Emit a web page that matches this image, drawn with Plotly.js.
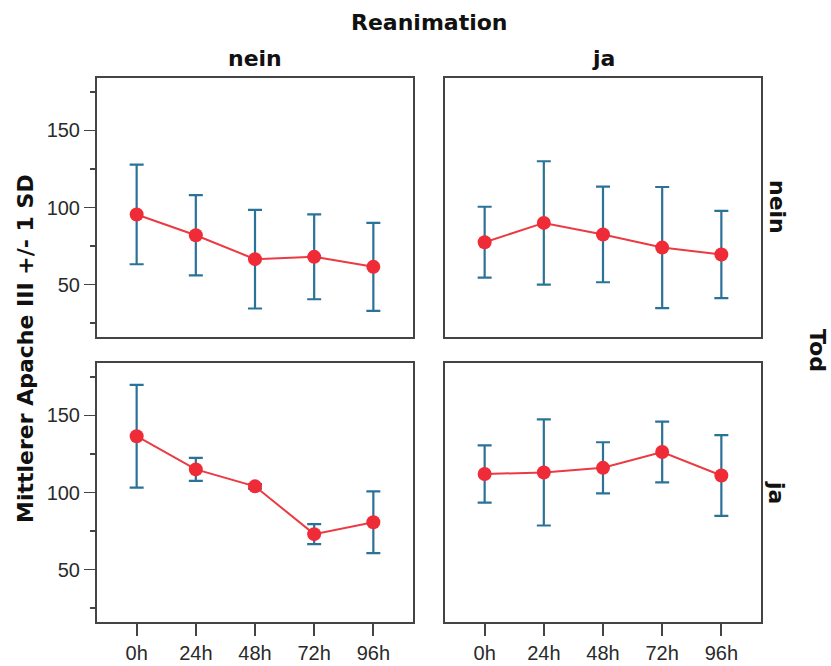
<!DOCTYPE html>
<html>
<head>
<meta charset="utf-8">
<script src="https://cdn.plot.ly/plotly-3.0.1.min.js"></script>
<style>html,body{margin:0;padding:0;background:#fff;}#chart{width:831px;height:666px;}</style>
</head>
<body>
<div id="chart"></div>
<script>
// Data
const times = ['0h', '24h', '48h', '72h', '96h'];
// Reanimation = nein, Tod = nein
const meanReaNeinTodNein = [95.5, 82, 66.5, 68, 61.5];
const sdReaNeinTodNein   = [32.3, 26, 32, 27.5, 28.5];
// Reanimation = ja, Tod = nein
const meanReaJaTodNein = [77.5, 90, 82.5, 74, 69.5];
const sdReaJaTodNein   = [23, 40, 31, 39.3, 28.3];
// Reanimation = nein, Tod = ja
const meanReaNeinTodJa = [136.5, 115, 104, 73, 80.7];
const sdReaNeinTodJa   = [33.3, 7.5, 1.5, 6.5, 20];
// Reanimation = ja, Tod = ja
const meanReaJaTodJa = [112, 113, 116, 126.3, 111];
const sdReaJaTodJa   = [18.6, 34.4, 16.6, 19.7, 26.2];

const yTickVals = [50, 100, 150];
const yMinorVals = [25, 75, 125, 175];
const colLabels = ['nein', 'ja'];
const rowLabels = ['nein', 'ja'];

const lineColor = '#ec3a43';
const markerColor = '#ef2b38';
const errColor = '#2b7299';
const boxColor = '#444444';

function mk(means, sds, xa, ya) {
  return {
    type: 'scatter', mode: 'lines+markers',
    x: times, y: means, xaxis: xa, yaxis: ya,
    line: {color: lineColor, width: 2},
    marker: {color: markerColor, size: 14},
    error_y: {type: 'data', array: sds, symmetric: true, color: errColor, thickness: 2.2, width: 7},
    showlegend: false, hoverinfo: 'x+y'
  };
}

const traces = [
  mk(meanReaNeinTodNein, sdReaNeinTodNein, 'x', 'y'),
  mk(meanReaJaTodNein, sdReaJaTodNein, 'x2', 'y2'),
  mk(meanReaNeinTodJa, sdReaNeinTodJa, 'x3', 'y3'),
  mk(meanReaJaTodJa, sdReaJaTodJa, 'x4', 'y4')
];

const W = 831, H = 666;
const xL = [97 / W, 413 / W], xR = [445 / W, 761 / W];
const yT = [1 - 337 / H, 1 - 78 / H], yB = [1 - 622 / H, 1 - 363 / H];
const yRange = [16, 184];
const xRange = [-0.67, 4.67];
const tickFont = {family: 'Liberation Sans, Arial, sans-serif', size: 20, color: '#2a2a2a'};

function xax(domain, anchor, showTicks) {
  return {
    domain: domain, anchor: anchor, type: 'category', range: xRange,
    showline: true, mirror: true, linecolor: boxColor, linewidth: 2,
    showgrid: false, zeroline: false,
    ticks: showTicks ? 'outside' : '', ticklen: 12, tickwidth: 2, tickcolor: boxColor,
    showticklabels: showTicks, tickfont: tickFont, fixedrange: true
  };
}
function yax(domain, anchor, showTicks) {
  const a = {
    domain: domain, anchor: anchor, range: yRange,
    showline: true, mirror: true, linecolor: boxColor, linewidth: 2,
    showgrid: false, zeroline: false,
    tickmode: 'array', tickvals: yTickVals,
    ticks: showTicks ? 'outside' : '', ticklen: 11, tickwidth: 1.5, tickcolor: boxColor,
    showticklabels: showTicks, tickfont: tickFont, fixedrange: true
  };
  if (showTicks) {
    a.minor = {tickmode: 'array', tickvals: yMinorVals, ticks: 'outside', ticklen: 5, tickwidth: 1.5, tickcolor: boxColor, showgrid: false};
  }
  return a;
}

const boldFont = {family: 'DejaVu Sans, sans-serif', size: 22, color: '#111'};
function ann(text, x, y, angle) {
  return {text: '<b>' + text + '</b>', x: x, y: y, xref: 'paper', yref: 'paper',
          xanchor: 'center', yanchor: 'middle', showarrow: false, font: boldFont, textangle: angle || 0};
}

const layout = {
  width: W, height: H,
  margin: {l: 0, r: 0, t: 0, b: 0},
  paper_bgcolor: '#fff', plot_bgcolor: '#fff',
  showlegend: false,
  xaxis: xax(xL, 'y', false), yaxis: yax(yT, 'x', true),
  xaxis2: xax(xR, 'y2', false), yaxis2: yax(yT, 'x2', false),
  xaxis3: xax(xL, 'y3', true), yaxis3: yax(yB, 'x3', true),
  xaxis4: xax(xR, 'y4', true), yaxis4: yax(yB, 'x4', false),
  annotations: [
    ann('Reanimation', 429 / W, 1 - 22 / H),
    ann(colLabels[0], 255 / W, 1 - 58 / H),
    ann(colLabels[1], 603 / W, 1 - 58 / H),
    ann(rowLabels[0], 777 / W, 1 - 207 / H, 90),
    ann(rowLabels[1], 777 / W, 1 - 492 / H, 90),
    ann('Tod', 818 / W, 1 - 350 / H, 90),
    ann('Mittlerer Apache III +/- 1 SD', 25 / W, 1 - 349 / H, -90)
  ]
};

Plotly.newPlot('chart', traces, layout, {staticPlot: true, displayModeBar: false});
</script>
</body>
</html>
